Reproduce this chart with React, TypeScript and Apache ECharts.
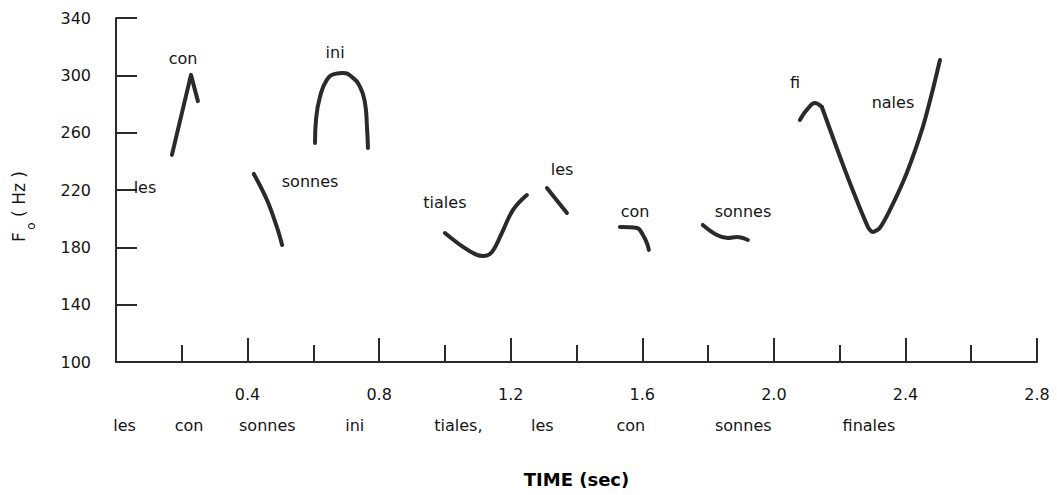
import React, { useEffect, useRef } from 'react';
import * as echarts from 'echarts';

// F0 contours: [time (s), F0 (Hz)]
const conCurve1 = [[0.170, 244.5], [0.228, 300.3], [0.249, 282]];
const sonnesCurve1 = [[0.419, 231.2], [0.459, 213], [0.489, 194.2], [0.505, 181.6]];
const iniCurve = [
  [0.605, 252.8], [0.608, 268.9], [0.620, 284.9], [0.641, 296.8], [0.666, 301.0], [0.690, 301.7],
  [0.717, 298.9], [0.742, 291.9], [0.757, 280.7], [0.763, 264.0], [0.766, 249.3],
];
const tialesCurve = [
  [1.000, 190.0], [1.055, 180.3], [1.097, 174.7], [1.116, 174.0], [1.143, 176.8],
  [1.173, 190.0], [1.207, 206.1], [1.249, 216.5],
];
const lesCurve2 = [[1.310, 221.4], [1.371, 204]];
const conCurve2 = [[1.532, 194.2], [1.584, 193.5], [1.602, 188.6], [1.614, 183], [1.620, 178.2]];
const sonnesCurve2 = [[1.784, 195.6], [1.827, 188.6], [1.860, 186.5], [1.888, 187.2], [1.921, 185.1]];
const finalesRise = [[2.079, 268.9], [2.100, 275.9], [2.125, 280.7], [2.146, 277.9]];
const finalesFallRise = [
  [2.146, 277.9], [2.216, 234.0], [2.286, 194.2], [2.301, 190.7], [2.322, 193.5], [2.353, 206.1],
  [2.404, 231.9], [2.453, 264.0], [2.483, 289.8], [2.505, 310.7],
];

// syllable annotations placed in data space
const annotationWords = ['les', 'con', 'ini', 'sonnes', 'tiales', 'les', 'con', 'sonnes', 'fi', 'nales'];
const annotationTimes = [0.088, 0.204, 0.666, 0.590, 1.0, 1.356, 1.578, 1.906, 2.064, 2.362];
const annotationF0 = [221.4, 311.4, 315.6, 225.6, 211, 234, 204.7, 204.7, 294.7, 280.7];

// sentence words under the time axis
const sentenceWords = ['les', 'con', 'sonnes', 'ini', 'tiales,', 'les', 'con', 'sonnes', 'finales'];
const sentenceTimes = [0.026, 0.222, 0.460, 0.726, 1.041, 1.296, 1.565, 1.907, 2.289];

const FONT = 'DejaVu Sans';
const INK = '#2a2a2a';
const TEXT = '#151515';

export default function App() {
  const ref = useRef<HTMLDivElement>(null);
  useEffect(() => {
    const chart = echarts.init(ref.current!, null, { renderer: 'svg' });
    const curves = [
      { data: conCurve1, smooth: false },
      { data: sonnesCurve1, smooth: 0.4 },
      { data: iniCurve, smooth: 0.5 },
      { data: tialesCurve, smooth: 0.4 },
      { data: lesCurve2, smooth: false },
      { data: conCurve2, smooth: 0.4 },
      { data: sonnesCurve2, smooth: 0.4 },
      { data: finalesRise, smooth: 0.4 },
      { data: finalesFallRise, smooth: 0.25 },
    ];
    const lineSeries = curves.map((c) => ({
      type: 'line',
      data: c.data,
      smooth: c.smooth,
      showSymbol: false,
      silent: true,
      lineStyle: { color: INK, width: 4, cap: 'round', join: 'round' },
    }));
    chart.setOption({
      animation: false,
      backgroundColor: '#ffffff',
      grid: { left: 116, top: 18, right: 20, bottom: 133, containLabel: false },
      xAxis: {
        type: 'value',
        min: 0,
        max: 2.8,
        interval: 0.4,
        name: 'TIME (sec)',
        nameLocation: 'middle',
        nameGap: 108,
        nameTextStyle: { fontFamily: FONT, fontWeight: 'bold', fontSize: 18, color: '#000' },
        axisLine: { show: true, lineStyle: { color: INK, width: 2 } },
        axisTick: { show: true, inside: true, length: 24, lineStyle: { color: INK, width: 2 } },
        minorTick: { show: true, splitNumber: 2, length: 17, lineStyle: { color: INK, width: 2 } },
        splitLine: { show: false },
        axisLabel: {
          showMinLabel: false,
          margin: 24,
          fontFamily: FONT,
          fontSize: 16,
          color: TEXT,
          formatter: (v: number) => v.toFixed(1),
        },
      },
      yAxis: {
        type: 'value',
        min: 100,
        max: 340,
        interval: 40,
        axisLine: { show: true, lineStyle: { color: INK, width: 2 } },
        axisTick: { show: true, inside: true, length: 21, lineStyle: { color: INK, width: 2 } },
        splitLine: { show: false },
        axisLabel: { margin: 25, fontFamily: FONT, fontSize: 16, color: TEXT },
      },
      series: [
        ...lineSeries,
        {
          type: 'scatter',
          silent: true,
          symbol: 'circle',
          symbolSize: 1,
          itemStyle: { color: 'rgba(0,0,0,0)', opacity: 1 },
          data: annotationWords.map((w, i) => ({ name: w, value: [annotationTimes[i], annotationF0[i]] })),
          label: {
            show: true,
            position: 'inside',
            formatter: (p: any) => p.name,
            fontFamily: FONT,
            fontSize: 16,
            color: TEXT,
          },
        },
      ],
    });
    const rowY = 425;
    const graphics: any[] = sentenceWords.map((w, i) => ({
      type: 'text',
      x: chart.convertToPixel({ xAxisIndex: 0 }, sentenceTimes[i]) as number,
      y: rowY,
      silent: true,
      style: { text: w, fontFamily: FONT, fontSize: 16, fill: TEXT, align: 'center', verticalAlign: 'middle' },
    }));
    graphics.push(
      { type: 'text', x: 19, y: 237, rotation: Math.PI / 2, silent: true,
        style: { text: 'F', fontFamily: FONT, fontSize: 17, fill: TEXT, align: 'center', verticalAlign: 'middle' } },
      { type: 'text', x: 31, y: 226, rotation: Math.PI / 2, silent: true,
        style: { text: 'o', fontFamily: FONT, fontSize: 12, fill: TEXT, align: 'center', verticalAlign: 'middle' } },
      { type: 'text', x: 19, y: 194, rotation: Math.PI / 2, silent: true,
        style: { text: '( Hz )', fontFamily: FONT, fontSize: 17, fill: TEXT, align: 'center', verticalAlign: 'middle' } },
    );
    chart.setOption({ graphic: graphics });
    return () => chart.dispose();
  }, []);
  return (
    <div
      ref={ref}
      style={{ position: 'fixed', left: 0, top: 0, width: 1057, height: 495, background: '#fff' }}
    />
  );
}
